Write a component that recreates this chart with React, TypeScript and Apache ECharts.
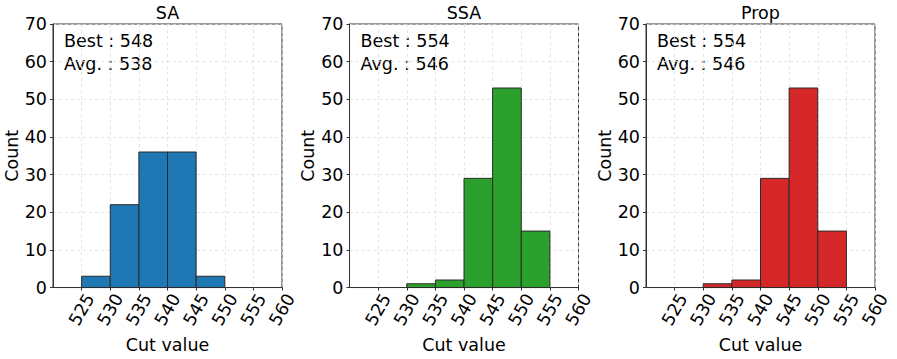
import React, { useEffect, useRef } from "react";
import * as echarts from "echarts";

const binEdges = [525, 530, 535, 540, 545, 550, 555];
const saCounts = [3, 22, 36, 36, 3, 0];
const ssaCounts = [0, 1, 2, 29, 53, 15];
const propCounts = [0, 1, 2, 29, 53, 15];
const titles = ["SA", "SSA", "Prop"];
const bestValues = [548, 554, 554];
const avgValues = [538, 546, 546];
const colors = ["#1f77b4", "#2ca02c", "#d62728"];
const xTicks = [520, 525, 530, 535, 540, 545, 550, 555, 560];
const yTicks = [0, 10, 20, 30, 40, 50, 60, 70];

const FONT = "DejaVu Sans";
const FS = 17.5;

export default function App() {
  const ref = useRef<HTMLDivElement>(null);
  useEffect(() => {
    document.body.style.margin = "0";
    const chart = echarts.init(ref.current!, null, { renderer: "svg" });
    const allCounts = [saCounts, ssaCounts, propCounts];
    const lefts = [53, 349.5, 646];
    const W = 229;
    const top = 24;
    const H = 268;

    const grids = lefts.map((l) => ({
      left: l,
      top,
      width: W,
      height: H,
      show: true,
      borderColor: "#333",
      borderWidth: 1,
      backgroundColor: "transparent",
    }));

    const xAxes = lefts.map((_, i) => ({
      type: "value",
      gridIndex: i,
      min: xTicks[0],
      max: xTicks[xTicks.length - 1],
      interval: 5,
      name: "Cut value",
      nameLocation: "middle",
      nameGap: 39,
      nameTextStyle: { fontFamily: FONT, fontSize: FS, color: "#000" },
      axisLine: { show: true, lineStyle: { color: "#333", width: 1 } },
      axisTick: { show: true, inside: false, length: 3, lineStyle: { color: "#333" } },
      axisLabel: {
        rotate: 60,
        margin: 22,
        align: "center",
        verticalAlign: "middle",
        fontFamily: FONT,
        fontSize: FS,
        color: "#000",
        showMinLabel: false,
        formatter: (v: number) => (v === xTicks[0] ? "" : String(v)),
      },
      splitLine: { show: true, lineStyle: { color: "#dcdcdc", type: [3, 3], width: 0.8 } },
    }));

    const yAxes = lefts.map((_, i) => ({
      type: "value",
      gridIndex: i,
      min: yTicks[0],
      max: yTicks[yTicks.length - 1],
      interval: 10,
      name: "Count",
      nameLocation: "middle",
      nameGap: 30,
      nameTextStyle: { fontFamily: FONT, fontSize: FS, color: "#000" },
      axisLine: { show: true, lineStyle: { color: "#333", width: 1 } },
      axisTick: { show: true, inside: false, length: 3, lineStyle: { color: "#333" } },
      axisLabel: { margin: 6, fontFamily: FONT, fontSize: FS, color: "#000" },
      splitLine: { show: true, lineStyle: { color: "#dcdcdc", type: [3, 3], width: 0.8 } },
    }));

    const series = allCounts.map((counts, i) => {
      const data: number[][] = [];
      counts.forEach((c, k) => {
        if (c > 0) data.push([binEdges[k], binEdges[k + 1], c]);
      });
      return {
        type: "custom",
        xAxisIndex: i,
        yAxisIndex: i,
        data,
        renderItem: (_p: any, api: any) => {
          const p0 = api.coord([api.value(0), api.value(2)]);
          const p1 = api.coord([api.value(1), 0]);
          return {
            type: "rect",
            shape: { x: p0[0], y: p0[1], width: p1[0] - p0[0], height: p1[1] - p0[1] },
            style: { fill: colors[i], stroke: "#2a2a2a", lineWidth: 1 },
          };
        },
      };
    });

    const titleComps = lefts.map((l, i) => ({
      text: titles[i],
      left: l + W / 2,
      top: 4,
      padding: 0,
      textAlign: "center",
      textStyle: { fontFamily: FONT, fontSize: FS, fontWeight: "normal", color: "#000" },
    }));

    const graphics: any[] = [];
    lefts.forEach((l, i) => {
      graphics.push({
        type: "text",
        x: l + 11,
        y: 41,
        style: { text: `Best : ${bestValues[i]}`, font: `${FS}px "${FONT}"`, fill: "#000", verticalAlign: "middle" },
      });
      graphics.push({
        type: "text",
        x: l + 11,
        y: 64,
        style: { text: `Avg. : ${avgValues[i]}`, font: `${FS}px "${FONT}"`, fill: "#000", verticalAlign: "middle" },
      });
    });

    chart.setOption({
      animation: false,
      backgroundColor: "#fff",
      title: titleComps,
      grid: grids,
      xAxis: xAxes,
      yAxis: yAxes,
      series,
      graphic: graphics,
    } as any);
    return () => chart.dispose();
  }, []);
  return <div ref={ref} style={{ width: 897, height: 359 }} />;
}
